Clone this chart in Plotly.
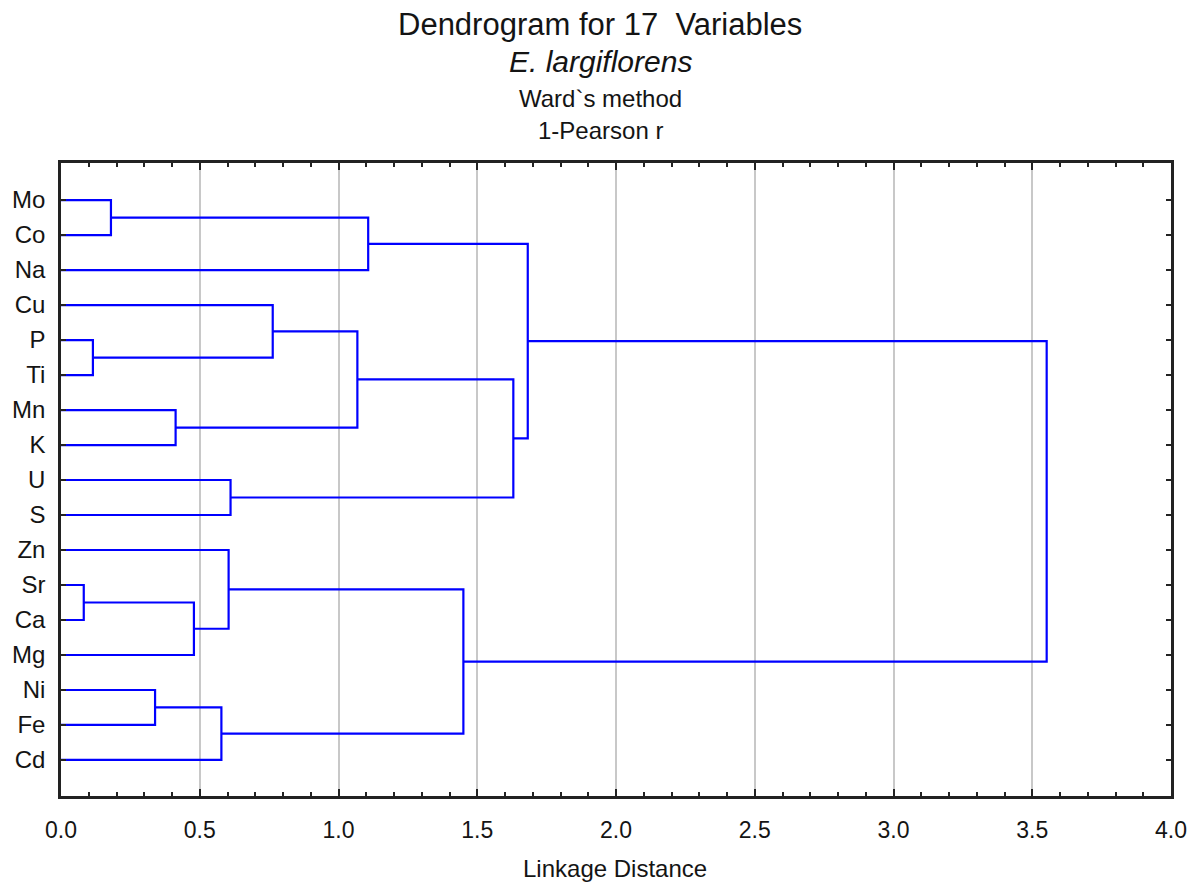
import plotly.graph_objects as go

# ---- data ----
leaf_labels = ["Mo", "Co", "Na", "Cu", "P", "Ti", "Mn", "K", "U", "S",
               "Zn", "Sr", "Ca", "Mg", "Ni", "Fe", "Cd"]
# merges: cluster A, cluster B, linkage distance -> new cluster "C1", "C2", ...
merge_a = ["Mo", "P", "Sr", "Ni", "Mn", "C3", "C4", "Zn", "U", "Cu",
           "C10", "C1", "C8", "C11", "C12", "C15"]
merge_b = ["Co", "Ti", "Ca", "Fe", "K", "Mg", "Cd", "C6", "S", "C2",
           "C5", "Na", "C7", "C9", "C14", "C13"]
merge_dist = [0.18, 0.115, 0.082, 0.339, 0.413, 0.479, 0.578, 0.604, 0.611, 0.763,
              1.068, 1.107, 1.450, 1.630, 1.682, 3.552]
x_ticks = [0.0, 0.5, 1.0, 1.5, 2.0, 2.5, 3.0, 3.5, 4.0]
x_tick_text = ["0.0", "0.5", "1.0", "1.5", "2.0", "2.5", "3.0", "3.5", "4.0"]

# ---- build dendrogram link paths ----
pos = {}   # cluster -> (x, y)
for i, lab in enumerate(leaf_labels):
    pos[lab] = (0.0, i + 1)

xs, ys = [], []
for k, (a, b, d) in enumerate(zip(merge_a, merge_b, merge_dist)):
    xa, ya = pos[a]
    xb, yb = pos[b]
    xs += [xa, d, d, xb, None]
    ys += [ya, ya, yb, yb, None]
    pos["C%d" % (k + 1)] = (d, (ya + yb) / 2)

FONT = "Liberation Sans, Arial, sans-serif"
TXT = "#141414"
AX = "#222222"

fig = go.Figure()
fig.add_trace(go.Scatter(x=xs, y=ys, mode="lines",
                         line=dict(color="#0000ff", width=2.2),
                         hoverinfo="skip", showlegend=False))

fig.update_layout(
    width=1200, height=884,
    margin=dict(l=61, r=29, t=163, b=88),
    paper_bgcolor="white", plot_bgcolor="white",
    font=dict(family=FONT, color=TXT, size=24),
    showlegend=False,
)
fig.update_xaxes(
    range=[0, 4], tickvals=x_ticks, ticktext=x_tick_text,
    showgrid=True, gridcolor="#c8c8c8", gridwidth=1.5,
    showline=True, linecolor=AX, linewidth=2.5, mirror="allticks",
    ticks="inside", ticklen=7, tickwidth=1.5, tickcolor=AX,
    minor=dict(dtick=0.1, ticks="inside", ticklen=4, tickwidth=1.5, tickcolor=AX, showgrid=False),
    tickfont=dict(size=23, family=FONT, color=TXT),
    ticklabelstandoff=12, zeroline=False,
)
fig.update_yaxes(
    range=[18.03, -0.06], tickvals=list(range(1, 18)), ticktext=leaf_labels,
    showgrid=False, showline=True, linecolor=AX, linewidth=2.5, mirror="allticks",
    ticks="inside", ticklen=5, tickwidth=1.5, tickcolor=AX,
    tickfont=dict(size=24, family=FONT, color=TXT),
    ticklabelstandoff=8, zeroline=False,
)

cx = (600 - 61) / 1110
ann = [
    ("Dendrogram for 17  Variables", 25, 31),
    ("<i>E. largiflorens</i>", 62, 30),
    ("Ward`s method", 99, 24),
    ("1-Pearson r", 130, 24),
]
for text, ypx, size in ann:
    fig.add_annotation(text=text, xref="paper", yref="paper",
                       x=cx, y=(796 - ypx) / 633, xanchor="center", yanchor="middle",
                       showarrow=False, font=dict(size=size, family=FONT, color=TXT))
fig.add_annotation(text="Linkage Distance", xref="paper", yref="paper",
                   x=(615 - 61) / 1110, y=(796 - 868) / 633,
                   xanchor="center", yanchor="middle", showarrow=False,
                   font=dict(size=24, family=FONT, color=TXT))

fig.write_html("out.html")
